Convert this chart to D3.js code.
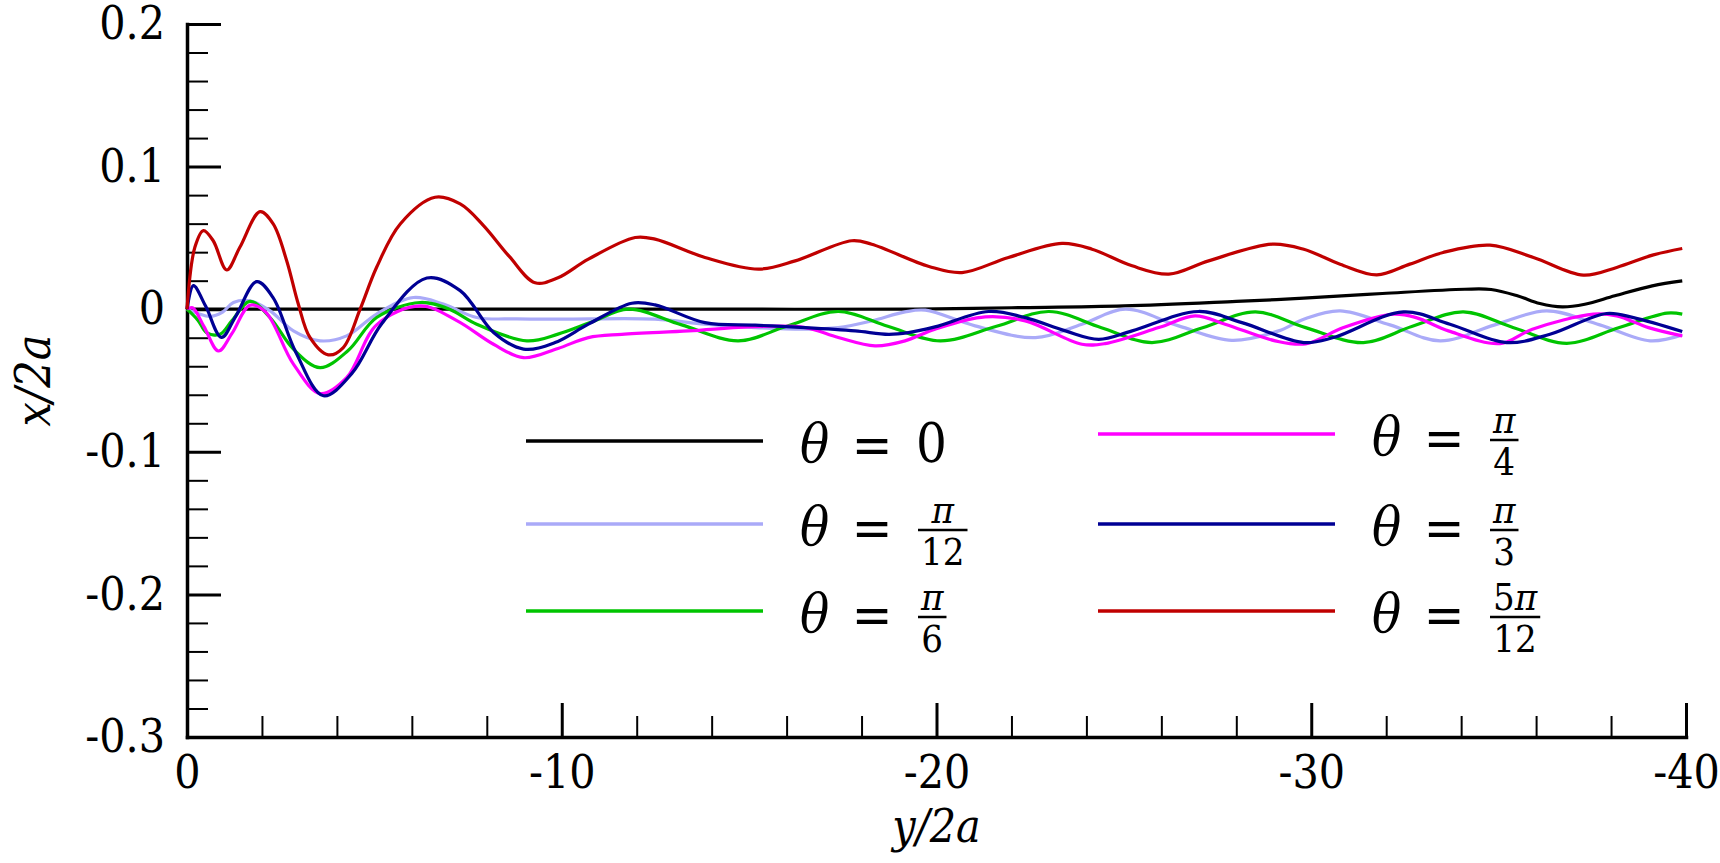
<!DOCTYPE html>
<html>
<head>
<meta charset="utf-8">
<script src="https://cdn.jsdelivr.net/npm/d3@7"></script>
<style>
  body { margin: 0; background: #fff; }
  svg { display: block; }
</style>
</head>
<body>
<svg id="chart" width="1720" height="863"></svg>
<script>
// Data: [y/2a, x/2a]

var theta0 = [[0,0],[-5,0],[-10,0],[-15,0],[-19.5,0],[-22,0.001],[-25,0.0023],[-28,0.0055],
  [-29.8,0.0077],[-31.9,0.011],[-34.1,0.014],[-34.8,0.0138],[-35.5,0.0094],[-36.1,0.004],
  [-36.7,0.0016],[-37.3,0.0035],[-38.1,0.0094],[-39.1,0.0164],[-39.9,0.0199]];

var thetaPi12 = [[0,0],[-0.3,-0.003],[-0.61,-0.0051],[-0.95,-0.002],[-1.24,0.0047],[-1.68,0.0059],
  [-2.22,-0.0012],[-2.84,-0.0152],[-3.55,-0.0222],[-4.26,-0.0187],[-5.06,-0.0034],[-6.04,0.0082],
  [-6.84,0.0036],[-7.73,-0.0058],[-8.8,-0.0068],[-9.96,-0.007],[-12.49,-0.007],[-13.82,-0.0105],
  [-15.16,-0.0129],[-16.5,-0.014],[-17.38,-0.0129],[-18.27,-0.0082],[-19.16,-0.0019],[-19.7,-0.0007],
  [-21.03,-0.0117],[-22.64,-0.0199],[-23.88,-0.0105],[-25.04,0],[-26.46,-0.0117],[-27.88,-0.0218],
  [-29.13,-0.0152],[-29.8,-0.007],[-30.77,-0.0012],[-32.1,-0.011],[-33.44,-0.0222],[-34.9,-0.011],
  [-36.28,-0.0012],[-37.7,-0.011],[-39.04,-0.0222],[-39.9,-0.018]];

var thetaPi6 = [[0,0],[-0.3,-0.008],[-0.52,-0.0164],[-0.88,-0.0176],[-1.2,-0.008],[-1.68,0.0055],
  [-2.22,-0.006],[-2.84,-0.028],[-3.55,-0.041],[-4.3,-0.029],[-5.06,-0.0058],[-6.22,0.0047],
  [-7.0,0.0],[-7.73,-0.0105],[-9.07,-0.0222],[-9.9,-0.0175],[-10.8,-0.009],[-11.78,0],
  [-13.2,-0.011],[-14.71,-0.0222],[-16.0,-0.012],[-17.38,-0.0016],[-18.7,-0.012],[-20.1,-0.0222],
  [-21.6,-0.012],[-23.0,-0.0016],[-24.4,-0.013],[-25.75,-0.0234],[-27.1,-0.013],[-28.51,-0.0019],
  [-29.85,-0.0129],[-31.39,-0.0234],[-32.7,-0.012],[-34.06,-0.0019],[-35.4,-0.013],[-36.82,-0.0239],
  [-38.2,-0.013],[-39.49,-0.0028],[-39.9,-0.0035]];

var thetaPi4 = [[0,0],[-0.15,0.001],[-0.45,-0.012],[-0.84,-0.0293],[-1.2,-0.017],[-1.68,0.0028],
  [-2.1,-0.002],[-2.84,-0.0385],[-3.55,-0.0591],[-4.26,-0.048],[-5.06,-0.011],[-6.22,0.0023],
  [-7.2,-0.008],[-8.18,-0.0246],[-8.98,-0.034],[-9.9,-0.0275],[-10.71,-0.0199],[-11.6,-0.0176],
  [-13.38,-0.0152],[-15.16,-0.0122],[-16.5,-0.0129],[-17.38,-0.0199],[-18.36,-0.0257],[-19.16,-0.0222],
  [-19.96,-0.014],[-21.3,-0.0054],[-22.37,-0.0082],[-23.88,-0.0246],[-24.5,-0.0241],[-25.93,-0.0129],
  [-26.9,-0.0047],[-27.7,-0.0105],[-29.04,-0.0222],[-29.85,-0.0243],[-30.86,-0.0129],[-32.19,-0.0035],
  [-32.8,-0.0059],[-33.66,-0.0152],[-35.04,-0.0241],[-35.9,-0.014],[-37.53,-0.0035],[-38.15,-0.0047],
  [-39.0,-0.0129],[-39.9,-0.0187]];

var thetaPi3 = [[0,0],[-0.17,0.0165],[-0.5,0.002],[-0.92,-0.0198],[-1.3,-0.005],[-1.86,0.0193],
  [-2.3,0.008],[-2.9,-0.03],[-3.64,-0.0607],[-4.4,-0.045],[-5.2,-0.01],[-6.4,0.0219],[-7.29,0.013],
  [-8.18,-0.0163],[-8.98,-0.028],[-9.82,-0.0234],[-10.71,-0.0105],[-11.87,0.0042],[-12.49,0.003],
  [-13.82,-0.0094],[-15.16,-0.0112],[-16.5,-0.0129],[-17.83,-0.0152],[-18.72,-0.0176],[-19.25,-0.0164],
  [-19.96,-0.0124],[-21.39,-0.0016],[-22.37,-0.0059],[-23.44,-0.0152],[-24.33,-0.0211],[-25.22,-0.0152],
  [-26.99,-0.0016],[-28.15,-0.0094],[-29.8,-0.0234],[-30.59,-0.0199],[-32.46,-0.0019],[-33.7,-0.0105],
  [-35.21,-0.0234],[-36.37,-0.0176],[-37.88,-0.003],[-38.6,-0.0059],[-39.9,-0.0157]];

var theta5Pi12 = [[0,0],[-0.21,0.0434],[-0.44,0.0551],[-0.70,0.048],[-1.06,0.0275],[-1.41,0.0434],
  [-1.95,0.0684],[-2.30,0.0598],[-2.66,0.034],[-2.97,0.0036],[-3.28,-0.0198],[-3.77,-0.032],
  [-4.17,-0.0269],[-4.62,0],[-5.06,0.0294],[-5.69,0.0598],[-6.62,0.0785],[-7.29,0.0738],[-7.9,0.059],
  [-8.6,0.037],[-9.29,0.0185],[-9.9,0.022],[-10.71,0.0351],[-11.96,0.0503],[-12.49,0.0491],
  [-13.82,0.0363],[-15.25,0.0281],[-16.23,0.0339],[-17.74,0.048],[-18.27,0.0456],[-19.8,0.030],
  [-20.68,0.0257],[-21.92,0.0363],[-23.35,0.0461],[-24.15,0.0421],[-25.22,0.0304],[-26.2,0.0246],
  [-27.26,0.0339],[-28.96,0.0456],[-29.8,0.042],[-30.77,0.0316],[-31.75,0.0241],[-32.63,0.0316],
  [-33.52,0.0398],[-34.77,0.0449],[-35.93,0.0363],[-37.26,0.0239],[-38.15,0.0293],[-39.13,0.0381],
  [-39.9,0.0426]];

var seriesList = [theta0, thetaPi12, thetaPi6, thetaPi4, thetaPi3, theta5Pi12];
var seriesColors = ["#000000", "#aaaaf8", "#00c400", "#ff00ff", "#000094", "#c00000"];
// numerator: digit part + whether a pi follows
var legendNumDigit = ["0", "", "", "", "", "5"];
var legendNumPi = [false, true, true, true, true, true];
var legendDen = [null, "12", "6", "4", "3", "12"];

var xMajor = [0, -10, -20, -30, -40];
var xMinor = [-2, -4, -6, -8, -12, -14, -16, -18, -22, -24, -26, -28, -32, -34, -36, -38];
var yMajor = [0.2, 0.1, 0, -0.1, -0.2, -0.3];
var yMinor = [0.18, 0.16, 0.14, 0.12, 0.08, 0.06, 0.04, 0.02, -0.02, -0.04, -0.06, -0.08,
  -0.12, -0.14, -0.16, -0.18, -0.22, -0.24, -0.26, -0.28];

// only the DejaVu serif shows up as a serif face here
var serifFont = "'DejaVu Serif Condensed', 'DejaVu Serif', serif";

// plot frame (window.top is read-only, so no "top" here)
var plotLeft = 187, plotRight = 1686, plotTop = 24, plotBottom = 737;

var svg = d3.select("#chart");
svg.append("rect").attr("width", 1720).attr("height", 863).attr("fill", "#fff");

var x = d3.scaleLinear().domain([0, -40]).range([plotLeft, plotRight]);
var y = d3.scaleLinear().domain([-0.3, 0.2]).range([plotBottom, plotTop]);

function fmt(d) {
  // plain hyphen like the original plot
  return String(d).replace("−", "-");
}

function serif(sel, size) {
  sel.style("font-family", serifFont)
    .style("font-stretch", "condensed")
    .style("font-size", size + "px");
}

// minor ticks first, majors and axis line on top
svg.append("g")
  .attr("transform", "translate(0," + plotBottom + ")")
  .call(d3.axisBottom(x).tickValues(xMinor).tickSize(-21).tickSizeOuter(0).tickFormat(""))
  .call(function (g) {
    g.select(".domain").remove();
    g.selectAll(".tick line").attr("stroke-width", 2);
  });
svg.append("g")
  .attr("transform", "translate(" + plotLeft + ",0)")
  .call(d3.axisLeft(y).tickValues(yMinor).tickSize(-21).tickSizeOuter(0).tickFormat(""))
  .call(function (g) {
    g.select(".domain").remove();
    g.selectAll(".tick line").attr("stroke-width", 2);
  });

svg.append("g")
  .attr("transform", "translate(0," + plotBottom + ")")
  .call(d3.axisBottom(x).tickValues(xMajor).tickSize(-34).tickSizeOuter(0).tickPadding(18).tickFormat(fmt))
  .call(function (g) {
    g.select(".domain").attr("stroke-width", 3.5).attr("stroke-linecap", "square");
    g.selectAll(".tick line").attr("stroke-width", 3);
    serif(g.selectAll(".tick text"), 46);
  });
svg.append("g")
  .attr("transform", "translate(" + plotLeft + ",0)")
  .call(d3.axisLeft(y).tickValues(yMajor).tickSize(-34).tickSizeOuter(0).tickPadding(22).tickFormat(fmt))
  .call(function (g) {
    g.select(".domain").attr("stroke-width", 3.5).attr("stroke-linecap", "square");
    g.selectAll(".tick line").attr("stroke-width", 3);
    serif(g.selectAll(".tick text"), 46);
  });

// axis titles
svg.append("text")
  .attr("transform", "translate(50," + ((plotTop + plotBottom) / 2) + ") rotate(-90)")
  .attr("text-anchor", "middle")
  .call(serif, 48)
  .style("font-style", "italic")
  .text("x/2a");
svg.append("text")
  .attr("x", (plotLeft + plotRight) / 2)
  .attr("y", 842)
  .attr("text-anchor", "middle")
  .call(serif, 46)
  .style("font-style", "italic")
  .text("y/2a");

// curves
var line = d3.line()
  .x(function (d) { return x(d[0]); })
  .y(function (d) { return y(d[1]); })
  .curve(d3.curveCatmullRom.alpha(0.5));

svg.append("g").selectAll("path")
  .data(seriesList)
  .enter()
  .append("path")
  .attr("d", line)
  .attr("fill", "none")
  .attr("stroke", function (d, i) { return seriesColors[i]; })
  .attr("stroke-width", 3.2)
  .attr("stroke-linejoin", "round");

// legend, two columns of three
var legendX = [526, 1098];
var legendLineY = [[441, 524, 611], [434, 524, 611]];

var legend = svg.append("g");
for (var i = 0; i < seriesList.length; i++) {
  var col = Math.floor(i / 3), row = i % 3;
  var lx = legendX[col], ly = legendLineY[col][row];
  var base = ly + 21;
  var tx = lx + 274;

  legend.append("line")
    .attr("x1", lx).attr("x2", lx + 237)
    .attr("y1", ly).attr("y2", ly)
    .attr("stroke", seriesColors[i])
    .attr("stroke-width", 3.5);

  legend.append("text")
    .attr("x", tx).attr("y", base)
    .call(serif, 54)
    .style("font-style", "italic")
    .text("θ");
  legend.append("text")
    .attr("x", tx + 72).attr("y", base + 2)
    .attr("text-anchor", "middle")
    .call(serif, 54)
    .style("font-weight", "300")
    .text("=");

  if (legendDen[i] === null) {
    legend.append("text")
      .attr("x", tx + 116).attr("y", base)
      .call(serif, 54)
      .text(legendNumDigit[i]);
  } else {
    var fx = tx + 118;
    var num = legend.append("text")
      .attr("y", base - 22)
      .attr("text-anchor", "middle")
      .call(serif, 38);
    num.append("tspan").text(legendNumDigit[i]);
    if (legendNumPi[i]) num.append("tspan").style("font-style", "italic").text("π");
    var den = legend.append("text")
      .attr("y", base + 20)
      .attr("text-anchor", "middle")
      .call(serif, 38)
      .text(legendDen[i]);
    var w = Math.max(num.node().getComputedTextLength(), den.node().getComputedTextLength()) + 6;
    num.attr("x", fx + w / 2);
    den.attr("x", fx + w / 2);
    legend.append("line")
      .attr("x1", fx).attr("x2", fx + w)
      .attr("y1", base - 15).attr("y2", base - 15)
      .attr("stroke", "#000")
      .attr("stroke-width", 2.5);
  }
}
</script>
</body>
</html>
